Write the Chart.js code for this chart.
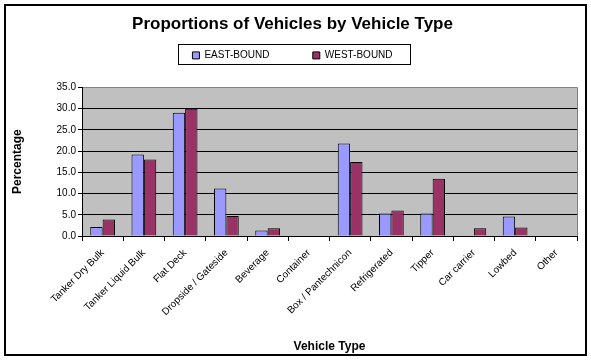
<!DOCTYPE html>
<html>
<head>
<meta charset="utf-8">
<script src="https://cdn.jsdelivr.net/npm/chart.js@4.4.0/dist/chart.umd.min.js"></script>
<style>
  html, body { margin: 0; padding: 0; background: #fff; }
  #wrap { width: 591px; height: 361px; }
</style>
</head>
<body>
<div id="wrap"><canvas id="vehChart" width="591" height="361"></canvas></div>
<script>
// vehicle type proportions
const vehicleTypes = ['Tanker Dry Bulk', 'Tanker Liquid Bulk', 'Flat Deck', 'Dropside / Gateside',
    'Beverage', 'Container', 'Box / Pantechnicon', 'Refrigerated', 'Tipper', 'Car carrier', 'Lowbed', 'Other'];
const eastBound = [2.1, 19.2, 29.0, 11.2, 1.3, 0, 21.8, 5.3, 5.3, 0, 4.6, 0];
const westBound = [3.9, 18.0, 30.0, 4.7, 1.8, 0, 17.4, 6.0, 13.5, 1.8, 2.0, 0];
const yTicks = [0, 5, 10, 15, 20, 25, 30, 35];

Chart.defaults.font.family = '"Liberation Sans", Arial, sans-serif';
Chart.defaults.color = '#000';

// white page, outer frame, grey plot area and legend border
const framePlugin = {
    id: 'frame',
    beforeUpdate(chart) {
        // keep legend from taking its default height
        if (chart.legend && !chart.legend._patched) {
            const origFit = chart.legend.fit;
            chart.legend.fit = function () {
                origFit.call(this);
                this.height = 47;
            };
            chart.legend._patched = true;
        }
    },
    beforeDraw(chart) {
        const ctx = chart.ctx;
        const a = chart.chartArea;
        ctx.save();
        ctx.fillStyle = '#fff';
        ctx.fillRect(0, 0, chart.width, chart.height);
        ctx.fillStyle = '#c0c0c0';
        ctx.fillRect(a.left, a.top, a.right - a.left, a.bottom - a.top);
        ctx.restore();
    },
    afterDraw(chart) {
        const ctx = chart.ctx;
        const a = chart.chartArea;
        ctx.save();
        ctx.strokeStyle = '#808080';
        ctx.lineWidth = 1;
        ctx.beginPath();
        ctx.moveTo(a.right + 0.5, a.top);
        ctx.lineTo(a.right + 0.5, a.bottom);
        ctx.stroke();
        ctx.strokeStyle = '#000';
        ctx.lineWidth = 1;
        ctx.strokeRect(178.5, 44.5, 232, 20);
        ctx.lineWidth = 2;
        ctx.strokeRect(5, 5, 581, 350);
        ctx.restore();
    }
};

new Chart(document.getElementById('vehChart'), {
    type: 'bar',
    data: {
        labels: vehicleTypes,
        datasets: [{
            label: 'EAST-BOUND',
            data: eastBound,
            backgroundColor: '#9999ff',
            borderColor: '#000',
            borderWidth: 1
        }, {
            label: 'WEST-BOUND',
            data: westBound,
            backgroundColor: '#993366',
            borderColor: '#000',
            borderWidth: 1
        }]
    },
    options: {
        responsive: false,
        animation: false,
        devicePixelRatio: 1,
        layout: { padding: { top: 6, left: 8, right: 14, bottom: 4 } },
        datasets: {
            bar: { categoryPercentage: 0.6, barPercentage: 1.0 }
        },
        plugins: {
            title: {
                display: true,
                text: 'Proportions of Vehicles by Vehicle Type',
                font: { size: 17, weight: 'bold' },
                color: '#000',
                padding: { top: 8, bottom: 6 }
            },
            legend: {
                labels: {
                    boxWidth: 7,
                    boxHeight: 7,
                    padding: 10,
                    font: { size: 10 },
                    generateLabels(chart) {
                        const items = Chart.defaults.plugins.legend.labels.generateLabels(chart);
                        items[0].text = items[0].text + '            ';
                        items.forEach(it => { it.lineWidth = 1; it.strokeStyle = '#000'; });
                        return items;
                    }
                }
            },
            tooltip: { enabled: false }
        },
        scales: {
            x: {
                grid: {
                    offset: true,
                    drawOnChartArea: false,
                    drawTicks: true,
                    tickLength: 5,
                    color: '#000'
                },
                border: { color: '#000' },
                ticks: {
                    autoSkip: false,
                    maxRotation: 45,
                    minRotation: 45,
                    padding: 6,
                    font: { size: 10 }
                },
                title: {
                    display: true,
                    text: 'Vehicle Type',
                    font: { size: 12, weight: 'bold' },
                    padding: { top: 0, bottom: 3 }
                },
                afterFit(scale) { scale.height = 121; }
            },
            y: {
                min: 0,
                max: 35,
                afterBuildTicks(scale) {
                    scale.ticks = yTicks.map(v => ({ value: v }));
                },
                grid: {
                    color: ctx => (ctx.tick && ctx.tick.value === 35 ? '#808080' : '#000'),
                    tickColor: '#000',
                    tickLength: 4
                },
                border: { color: '#000' },
                ticks: {
                    padding: 2,
                    font: { size: 10 },
                    callback: v => Number(v).toFixed(1)
                },
                title: {
                    display: true,
                    text: 'Percentage',
                    font: { size: 12, weight: 'bold' },
                    padding: { top: 2, bottom: 0 }
                },
                afterFit(scale) { scale.width = 74; }
            }
        }
    },
    plugins: [framePlugin]
});
</script>
</body>
</html>
